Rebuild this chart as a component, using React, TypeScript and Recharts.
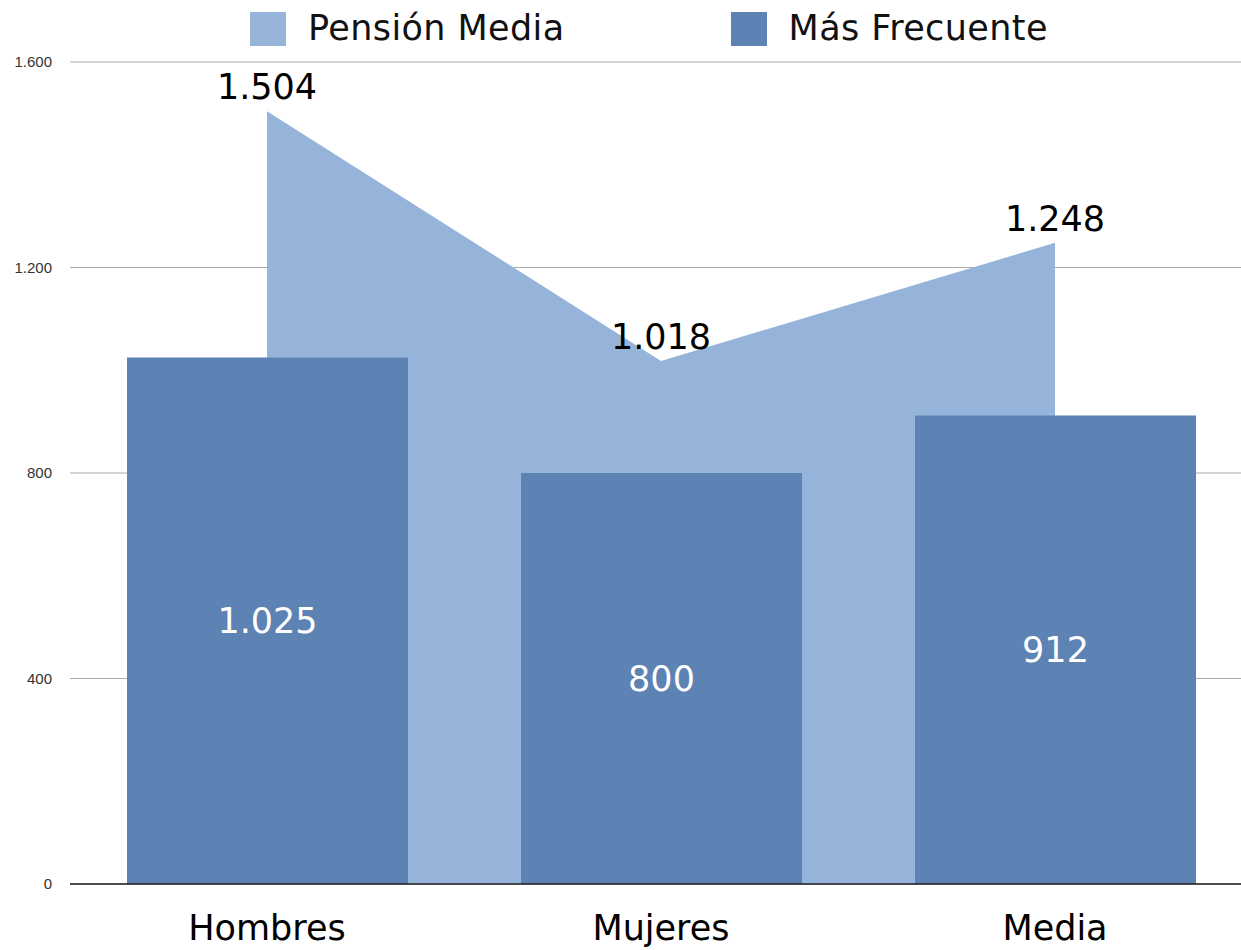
import React from 'react';
import { ComposedChart, Area, Bar, XAxis, YAxis, CartesianGrid, Legend, LabelList } from 'recharts';

const categories = ['Hombres', 'Mujeres', 'Media'];
const pensionMedia = [1504, 1018, 1248];
const masFrecuente = [1025, 800, 912];
const yTicks = [0, 400, 800, 1200, 1600];
const seriesNames = ['Pensión Media', 'Más Frecuente'];

const AREA_COLOR = '#96b4da';
const BAR_COLOR = '#5d82b4';
const FONT = '"DejaVu Sans", sans-serif';

const data = categories.map((c, i) => ({ name: c, media: pensionMedia[i], frecuente: masFrecuente[i] }));

const fmt = (v: any) => String(v).replace(/\B(?=(\d{3})+(?!\d))/g, '.');

const legendColors = [AREA_COLOR, BAR_COLOR];

const renderLegend = () => (
  <div style={{ display: 'flex', alignItems: 'center', fontFamily: FONT, fontSize: 35, color: '#111', letterSpacing: 0.4 }}>
    {seriesNames.map((label, i) => (
      <div key={label} style={{ display: 'flex', alignItems: 'center', marginLeft: i ? 166 : 0 }}>
        <div style={{ width: 36, height: 34, background: legendColors[i] }} />
        <span style={{ marginLeft: 22, lineHeight: '35px', whiteSpace: 'nowrap' }}>{label}</span>
      </div>
    ))}
  </div>
);

export default function App() {
  return (
    <div style={{ position: 'absolute', left: 8, top: 8, width: 1233, height: 942, overflow: 'hidden' }}>
      <ComposedChart
        width={1260}
        height={942}
        data={data}
        margin={{ top: 54, right: 16, bottom: 4, left: 0 }}
      >
        <CartesianGrid vertical={false} stroke="#ababab" strokeWidth={1.2} />
        <XAxis
          dataKey="name"
          height={62}
          tickLine={false}
          axisLine={{ stroke: '#1e1e1e', strokeWidth: 1.6 }}
          tickMargin={25}
          tick={{ fontFamily: FONT, fontSize: 35, fill: '#000' }}
          interval={0}
        />
        <YAxis
          width={62}
          domain={[0, 1600]}
          ticks={yTicks}
          tickLine={false}
          axisLine={false}
          tickMargin={12}
          tickFormatter={fmt}
          tick={{ fontFamily: '"Liberation Sans", Arial, sans-serif', fontSize: 15, fill: '#333' }}
        />
        <Legend
          verticalAlign="middle"
          align="center"
          layout="horizontal"
          content={renderLegend}
          wrapperStyle={{ top: 3, left: 242, width: 'auto' }}
        />
        <Area
          type="linear"
          dataKey="media"
          name={seriesNames[0]}
          fill={AREA_COLOR}
          fillOpacity={1}
          stroke="none"
          dot={false}
          activeDot={false}
          isAnimationActive={false}
        >
          <LabelList
            dataKey="media"
            position="top"
            offset={12}
            formatter={fmt}
            style={{ fontFamily: FONT, fontSize: 35, fill: '#000' }}
          />
        </Area>
        <Bar dataKey="frecuente" name={seriesNames[1]} fill={BAR_COLOR} barSize={281} isAnimationActive={false}>
          <LabelList
            dataKey="frecuente"
            position="center"
            formatter={fmt}
            style={{ fontFamily: FONT, fontSize: 35, fill: '#fff' }}
          />
        </Bar>
      </ComposedChart>
    </div>
  );
}
